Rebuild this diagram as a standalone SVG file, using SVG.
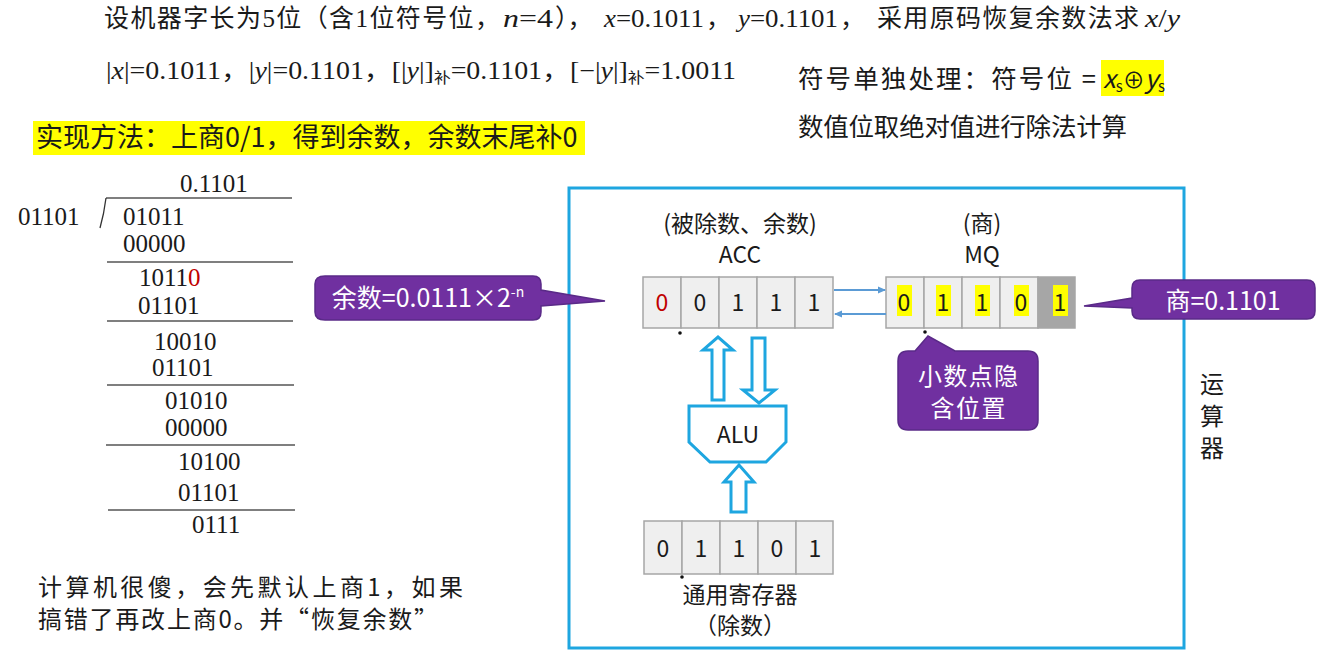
<svg xmlns="http://www.w3.org/2000/svg" width="1337" height="658" viewBox="0 0 1337 658">
<style>
.serif{font-family:"Liberation Serif","Noto Sans CJK SC",serif;fill:#1a1a1a}
.sans{font-family:"Noto Sans CJK SC","Liberation Sans",sans-serif;fill:#1a1a1a}
.dig{font-family:"Liberation Serif",serif;font-size:25px;fill:#1a1a1a}
.cell{fill:#efefef;stroke:#a6a6a6;stroke-width:1.5}
.reg{font-family:"Noto Sans CJK SC","Liberation Sans",sans-serif;font-size:23px;fill:#1a1a1a;text-anchor:middle}
.call{fill:#7030a0;stroke:#5a2a88;stroke-width:1.5}
.ctext{font-family:"Noto Sans CJK SC","Liberation Sans",sans-serif;fill:#ffffff;text-anchor:middle}
.hollow{fill:#ffffff;stroke:#1ea6e0;stroke-width:3;stroke-linejoin:miter}
.rule{stroke:#555;stroke-width:1.3}
.hl{fill:#ffff00}
.thin{stroke:#5b9bd5;stroke-width:1.8;fill:none}
.it{font-style:italic}
</style>
<defs>
<marker id="ah" markerWidth="8" markerHeight="8" refX="7" refY="4" orient="auto" markerUnits="userSpaceOnUse"><path d="M0,0.5 L8,4 L0,7.5 z" fill="#5b9bd5"/></marker>
</defs>
<rect width="1337" height="658" fill="#ffffff"/>

<g id="title" class="serif" font-size="25">
<text x="104" y="27" textLength="396" lengthAdjust="spacing">设机器字长为5位（含1位符号位，</text>
<text x="503" y="27" textLength="50" lengthAdjust="spacingAndGlyphs"><tspan class="it">n</tspan>=4</text>
<text x="555" y="27">），</text>
<text x="604" y="27" textLength="100" lengthAdjust="spacingAndGlyphs"><tspan class="it">x</tspan>=0.1011</text>
<text x="706" y="27">，</text>
<text x="738" y="27" textLength="100" lengthAdjust="spacingAndGlyphs"><tspan class="it">y</tspan>=0.1101</text>
<text x="840" y="27">，</text>
<text x="877" y="27" textLength="262" lengthAdjust="spacing">采用原码恢复余数法求</text>
<text x="1145" y="27" textLength="35" lengthAdjust="spacingAndGlyphs"><tspan class="it">x</tspan>/<tspan class="it">y</tspan></text>
</g>
<g id="line2">
<text class="serif" x="106" y="79" font-size="25" textLength="630" lengthAdjust="spacingAndGlyphs">|<tspan class="it">x</tspan>|=0.1011，|<tspan class="it">y</tspan>|=0.1101，[|<tspan class="it">y</tspan>|]<tspan font-size="15" dy="4">补</tspan><tspan dy="-4">=0.1101，[−|</tspan><tspan class="it">y</tspan>|]<tspan font-size="15" dy="4">补</tspan><tspan dy="-4">=1.0011</tspan></text>
</g>
<g id="sign">
<rect class="hl" x="1101" y="60" width="63" height="36"/>
<text class="sans" x="798" y="88" font-size="25.5" textLength="298" lengthAdjust="spacing">符号单独处理：符号位 =</text>
<text class="sans" x="1103" y="88" font-size="25.5"><tspan class="it">x</tspan><tspan font-size="15" dy="4">s</tspan><tspan dy="-4" font-size="22">⊕</tspan><tspan class="it">y</tspan><tspan font-size="15" dy="4">s</tspan></text>
<text class="sans" x="798" y="136" font-size="25.5" textLength="329" lengthAdjust="spacing">数值位取绝对值进行除法计算</text>
</g>
<g id="method">
<rect class="hl" x="33" y="121" width="552" height="34"/>
<text class="sans" x="36" y="147" font-size="27">实现方法：上商0/1，得到余数，余数末尾补0</text>
</g>

<g id="division">
<text class="dig" x="180" y="192">0.1101</text>
<line class="rule" x1="106" y1="198" x2="292" y2="198"/>
<path d="M100,228 Q104,214 106,198" fill="none" stroke="#333" stroke-width="1.3"/>
<text class="dig" x="18" y="225">01101</text>
<text class="dig" x="123" y="225">01011</text>
<text class="dig" x="123" y="252">00000</text>
<line class="rule" x1="107" y1="262" x2="293" y2="262"/>
<text class="dig" x="139" y="286">1011<tspan fill="#c00000">0</tspan></text>
<text class="dig" x="138" y="314">01101</text>
<line class="rule" x1="107" y1="321" x2="293" y2="321"/>
<text class="dig" x="154" y="350">10010</text>
<text class="dig" x="152" y="376">01101</text>
<line class="rule" x1="107" y1="385" x2="294" y2="385"/>
<text class="dig" x="165" y="409">01010</text>
<text class="dig" x="165" y="436">00000</text>
<line class="rule" x1="106" y1="445" x2="295" y2="445"/>
<text class="dig" x="178" y="470">10100</text>
<text class="dig" x="178" y="501">01101</text>
<line class="rule" x1="108" y1="510" x2="295" y2="510"/>
<text class="dig" x="192" y="533">0111</text>
</g>

<g id="note">
<text class="sans" x="38" y="596" font-size="24" textLength="425" lengthAdjust="spacing">计算机很傻，会先默认上商1，如果</text>
<text class="sans" x="38" y="628" font-size="24" textLength="400" lengthAdjust="spacing">搞错了再改上商0。并“恢复余数”</text>
</g>

<g id="alu-box">
<rect x="569" y="188" width="615" height="460" fill="none" stroke="#1ea6e0" stroke-width="3"/>
<text class="sans" x="1212" y="393" font-size="24" text-anchor="middle">运</text>
<text class="sans" x="1212" y="425" font-size="24" text-anchor="middle">算</text>
<text class="sans" x="1212" y="457" font-size="24" text-anchor="middle">器</text>
</g>

<g id="acc">
<text class="reg" x="740" y="232" font-size="24.5">(被除数、余数)</text>
<text class="reg" x="740" y="263">ACC</text>
<rect class="cell" x="643" y="277" width="38" height="51"/>
<rect class="cell" x="681" y="277" width="38" height="51"/>
<rect class="cell" x="719" y="277" width="38" height="51"/>
<rect class="cell" x="757" y="277" width="38" height="51"/>
<rect class="cell" x="795" y="277" width="38" height="51"/>
<text class="reg" x="662" y="311" style="fill:#c00000">0</text>
<text class="reg" x="700" y="311">0</text>
<text class="reg" x="738" y="311">1</text>
<text class="reg" x="776" y="311">1</text>
<text class="reg" x="814" y="311">1</text>
<circle cx="680" cy="333" r="1.8" fill="#111"/>
</g>

<g id="mq">
<text class="reg" x="982" y="232" font-size="24.5">(商)</text>
<text class="reg" x="982" y="263">MQ</text>
<rect class="cell" x="886" y="277" width="38" height="51"/>
<rect class="cell" x="924" y="277" width="38" height="51"/>
<rect class="cell" x="962" y="277" width="38" height="51"/>
<rect class="cell" x="1000" y="277" width="38" height="51"/>
<rect x="1038" y="277" width="37" height="51" fill="#a6a6a6" stroke="#a6a6a6" stroke-width="1.5"/>
<rect class="hl" x="897" y="285" width="15" height="31"/>
<rect class="hl" x="936" y="285" width="15" height="31"/>
<rect class="hl" x="975" y="285" width="15" height="31"/>
<rect class="hl" x="1014" y="285" width="15" height="31"/>
<rect class="hl" x="1053" y="285" width="15" height="31"/>
<text class="reg" x="904" y="311">0</text>
<text class="reg" x="943" y="311">1</text>
<text class="reg" x="982" y="311">1</text>
<text class="reg" x="1021" y="311">0</text>
<text class="reg" x="1060" y="311">1</text>
<circle cx="925" cy="332" r="1.8" fill="#111"/>
</g>

<g id="alu">
<path class="hollow" d="M689,406 L786,406 L786,442 L766,462 L710,462 L689,442 Z"/>
<text class="reg" x="738" y="443">ALU</text>
</g>

<g id="gr">
<rect class="cell" x="644" y="521" width="38" height="53"/>
<rect class="cell" x="682" y="521" width="38" height="53"/>
<rect class="cell" x="720" y="521" width="38" height="53"/>
<rect class="cell" x="758" y="521" width="38" height="53"/>
<rect class="cell" x="796" y="521" width="37" height="53"/>
<text class="reg" x="663" y="557">0</text>
<text class="reg" x="701" y="557">1</text>
<text class="reg" x="739" y="557">1</text>
<text class="reg" x="777" y="557">0</text>
<text class="reg" x="815" y="557">1</text>
<circle cx="682" cy="577" r="1.8" fill="#111"/>
<text class="reg" x="740" y="603" font-size="25">通用寄存器</text>
<text class="reg" x="740" y="634" font-size="25">（除数）</text>
</g>

<g id="callout-rem">
<path class="call" d="M325,276 L533,276 Q541,276 541,284 L541,290 L605,301 L541,306 L541,312 Q541,320 533,320 L325,320 Q315,320 315,312 L315,284 Q315,276 325,276 Z"/>
<text class="ctext" x="428" y="307" font-size="25">余数=0.0111×2<tspan font-size="14" dy="-10">-n</tspan></text>
</g>
<g id="callout-q">
<path class="call" d="M1140,280 L1307,280 Q1315,280 1315,288 L1315,311 Q1315,319 1307,319 L1140,319 Q1132,319 1132,311 L1132,308 L1084,306 L1132,298 L1132,288 Q1132,280 1140,280 Z"/>
<text class="ctext" x="1223" y="310" font-size="25">商=0.1101</text>
</g>
<g id="callout-point">
<path class="call" d="M908,351 L915,351 L928,336 L955,351 L1028,351 Q1038,351 1038,361 L1038,420 Q1038,430 1028,430 L908,430 Q898,430 898,420 L898,361 Q898,351 908,351 Z"/>
<text class="ctext" x="968" y="385" font-size="24" textLength="100" lengthAdjust="spacing">小数点隐</text>
<text class="ctext" x="968" y="417" font-size="24" textLength="75" lengthAdjust="spacing">含位置</text>
</g>

<g id="connectors">
<line class="thin" x1="834" y1="290" x2="885" y2="290" marker-end="url(#ah)"/>
<line class="thin" x1="886" y1="314" x2="835" y2="314" marker-end="url(#ah)"/>
<path class="hollow" d="M712,400 L712,350 L703,350 L718,337 L733,350 L724,350 L724,400 Z"/>
<path class="hollow" d="M752,338 L765,338 L765,390 L775,390 L759,403 L743,390 L752,390 Z"/>
<path class="hollow" d="M731,512 L731,482 L724,482 L739,465 L754,482 L746,482 L746,512 Z"/>
</g>
</svg>
